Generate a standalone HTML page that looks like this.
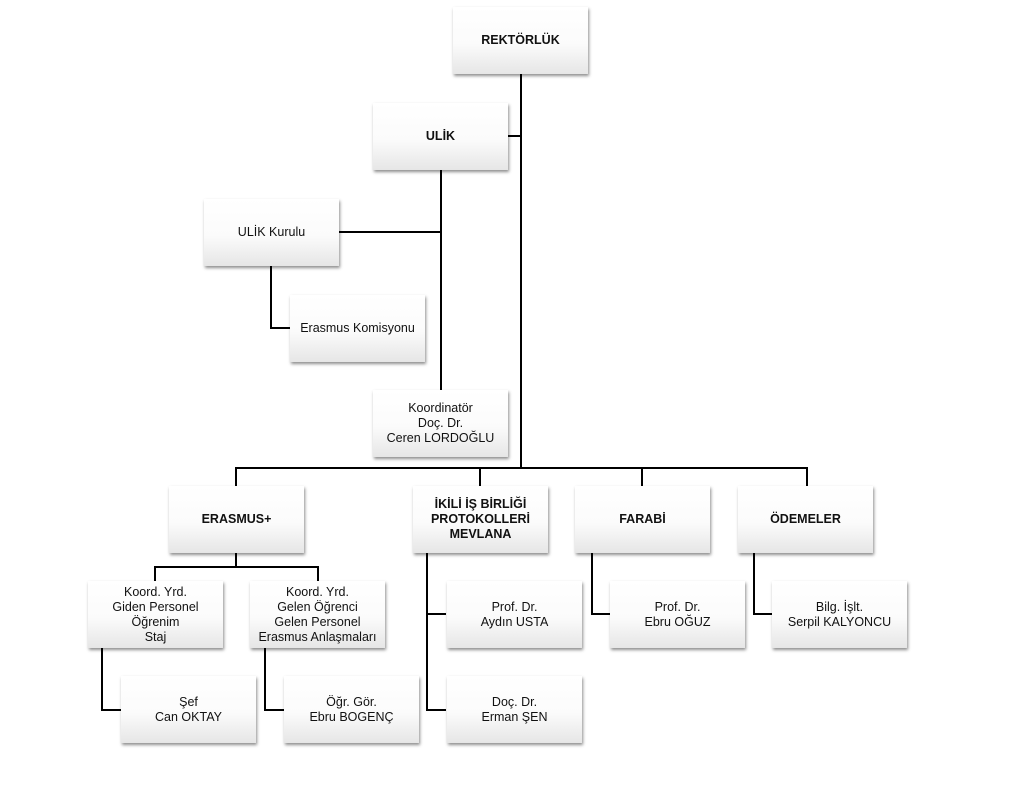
<!DOCTYPE html>
<html><head><meta charset="utf-8"><style>
body{margin:0;width:1024px;height:805px;background:#fff;position:relative;overflow:hidden;font-family:"Liberation Sans",sans-serif;}
.b{position:absolute;width:135px;height:67px;background:linear-gradient(#fff 0%,#fbfbfb 55%,#e6e6e6 100%);box-shadow:1px 2px 3px rgba(0,0,0,0.45);display:flex;align-items:center;justify-content:center;text-align:center;font-size:12.5px;line-height:15px;color:#111;}
.t{font-weight:bold;font-size:12.5px;}
.l{position:absolute;background:#000;}
.h{height:2px}.v{width:2px}
</style></head><body>
<!-- lines -->
<div class="l v" style="left:520px;top:74px;height:395px"></div>
<div class="l h" style="left:508px;top:135px;width:13px"></div>
<div class="l v" style="left:440px;top:170px;height:220px"></div>
<div class="l h" style="left:339px;top:231px;width:102px"></div>
<div class="l v" style="left:270px;top:266px;height:63px"></div>
<div class="l h" style="left:270px;top:327px;width:20px"></div>
<div class="l h" style="left:235px;top:467px;width:573px"></div>
<div class="l v" style="left:235px;top:467px;height:19px"></div>
<div class="l v" style="left:479px;top:467px;height:19px"></div>
<div class="l v" style="left:641px;top:467px;height:19px"></div>
<div class="l v" style="left:806px;top:467px;height:19px"></div>
<div class="l v" style="left:235px;top:553px;height:15px"></div>
<div class="l h" style="left:154px;top:566px;width:165px"></div>
<div class="l v" style="left:154px;top:566px;height:15px"></div>
<div class="l v" style="left:317px;top:566px;height:15px"></div>
<div class="l v" style="left:101px;top:648px;height:63px"></div>
<div class="l h" style="left:101px;top:709px;width:20px"></div>
<div class="l v" style="left:264px;top:648px;height:63px"></div>
<div class="l h" style="left:264px;top:709px;width:20px"></div>
<div class="l v" style="left:426px;top:553px;height:158px"></div>
<div class="l h" style="left:426px;top:613px;width:20px"></div>
<div class="l h" style="left:426px;top:709px;width:20px"></div>
<div class="l v" style="left:591px;top:553px;height:62px"></div>
<div class="l h" style="left:591px;top:613px;width:19px"></div>
<div class="l v" style="left:753px;top:553px;height:62px"></div>
<div class="l h" style="left:753px;top:613px;width:19px"></div>
<!-- boxes -->
<div class="b t" style="left:453px;top:7px">REKTÖRLÜK</div>
<div class="b t" style="left:373px;top:103px">ULİK</div>
<div class="b" style="left:204px;top:199px">ULİK Kurulu</div>
<div class="b" style="left:290px;top:295px">Erasmus Komisyonu</div>
<div class="b" style="left:373px;top:390px">Koordinatör<br>Doç. Dr.<br>Ceren LORDOĞLU</div>
<div class="b t" style="left:169px;top:486px">ERASMUS+</div>
<div class="b t" style="left:413px;top:486px">İKİLİ İŞ BİRLİĞİ<br>PROTOKOLLERİ<br>MEVLANA</div>
<div class="b t" style="left:575px;top:486px">FARABİ</div>
<div class="b t" style="left:738px;top:486px">ÖDEMELER</div>
<div class="b" style="left:88px;top:581px">Koord. Yrd.<br>Giden Personel<br>Öğrenim<br>Staj</div>
<div class="b" style="left:250px;top:581px">Koord. Yrd.<br>Gelen Öğrenci<br>Gelen Personel<br>Erasmus Anlaşmaları</div>
<div class="b" style="left:121px;top:676px">Şef<br>Can OKTAY</div>
<div class="b" style="left:284px;top:676px">Öğr. Gör.<br>Ebru BOGENÇ</div>
<div class="b" style="left:447px;top:581px">Prof. Dr.<br>Aydın USTA</div>
<div class="b" style="left:447px;top:676px">Doç. Dr.<br>Erman ŞEN</div>
<div class="b" style="left:610px;top:581px">Prof. Dr.<br>Ebru OĞUZ</div>
<div class="b" style="left:772px;top:581px">Bilg. İşlt.<br>Serpil KALYONCU</div>
</body></html>
